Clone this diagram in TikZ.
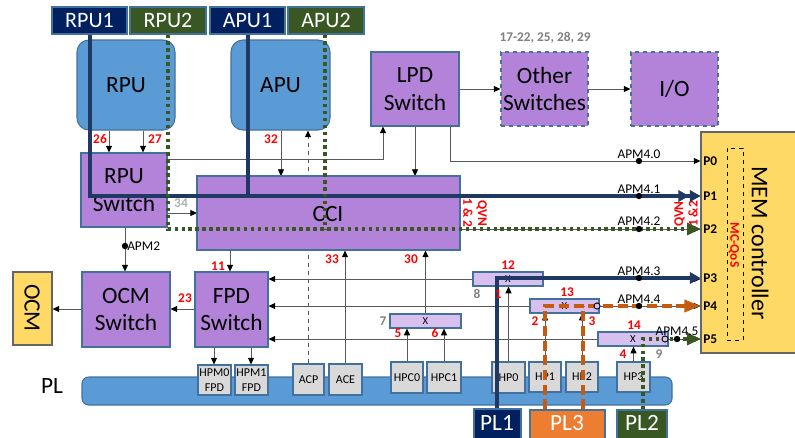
\documentclass[tikz,border=0pt]{standalone}
\usepackage{fontspec}
\setmainfont{Carlito}
\usetikzlibrary{arrows.meta,fit,calc}

\definecolor{navy}{HTML}{002060}
\definecolor{navyln}{HTML}{1F3864}
\definecolor{grn}{HTML}{385723}
\definecolor{purp}{HTML}{B383DA}
\definecolor{lpurp}{HTML}{D7C0EE}
\definecolor{bluebox}{HTML}{5B9BD5}
\definecolor{edge}{HTML}{41719C}
\definecolor{ylw}{HTML}{FFD966}
\definecolor{gbox}{HTML}{D9D9D9}
\definecolor{orgln}{HTML}{C55A11}
\definecolor{orgbox}{HTML}{ED7D31}
\definecolor{redlbl}{HTML}{FF0000}
\definecolor{graylbl}{HTML}{808080}
\definecolor{lgraylbl}{HTML}{B0B0B0}

\newcommand\fbig{\fontsize{17.5}{20.5}\selectfont}
\newcommand\ftag{\fontsize{16.5}{20}\selectfont}
\newcommand\fmem{\fontsize{18}{21}\selectfont}
\newcommand\fport{\fontsize{9}{11.5}\selectfont}
\newcommand\fnum{\bfseries\fontsize{10}{12}\selectfont}
\newcommand\fapm{\fontsize{10}{12}\selectfont}
\newcommand\fqvn{\bfseries\fontsize{10}{11}\selectfont}

\begin{document}
\begin{tikzpicture}[x=0.75pt,y=-0.75pt,
  box/.style={draw=edge, line width=0.8pt, inner sep=0pt},
  % text sitting in the middle of a fitted box
  mid/.style={label={[inner sep=0pt, align=center, font=#1]center:}},
  bigtxt/.style={inner sep=0pt, align=center, font=\fbig},
  tag/.style={box, fill=navy},
  tagg/.style={tag, fill=grn},
  tagtxt/.style={inner sep=0pt, text=white, font=\ftag},
  core/.style={box, fill=bluebox, rounded corners=9pt},
  sw/.style={box, fill=purp},
  swd/.style={sw, dashed},
  xbar/.style={box, fill=lpurp, line width=0.9pt},
  xtxt/.style={inner sep=0pt, font=\fontsize{8}{10}\selectfont},
  port/.style={box, fill=gbox},
  porttxt/.style={inner sep=0pt, align=center, font=\fport},
  conn/.style={draw=black!65, line width=0.6pt, -{Triangle[length=5pt,width=4.5pt,color=black]}},
  num/.style={text=redlbl, font=\fnum, inner sep=0pt},
  gnum/.style={text=graylbl, font=\fnum, inner sep=0pt},
  apm/.style={font=\fapm, anchor=base, inner sep=0pt},
  portlbl/.style={font=\fnum, anchor=west, inner sep=0pt},
  bluepath/.style={draw=navyln, line width=3pt},
  greenpath/.style={draw=grn, line width=2.3pt, dash pattern=on 2.6pt off 2.6pt},
  orgpath/.style={draw=orgln, line width=2.6pt, dash pattern=on 7.5pt off 3.5pt},
  bluetip/.style={-{Triangle[length=8pt,width=8.5pt]}},
  greentip/.style={-{Triangle[length=10pt,width=9pt]}},
  orgtip/.style={-{Triangle[length=12pt,width=9pt]}},
  dotmark/.style={fill=black},
  ring/.style={draw=black, line width=0.7pt}
]
\useasboundingbox (0,0) rectangle (795,437);

% ---------- programmable logic fabric ----------
\node[box, fill=bluebox, rounded corners=5pt, fit={(82,377) (672,405)}] (plbar) {};
\node[bigtxt] (pltxt) at (52,386) {PL};

\foreach \n/\a/\b/\t in {hpm0/{(198,365)}/{(231,395)}/{HPM0\\FPD},
                         hpm1/{(235,365)}/{(268,395)}/{HPM1\\FPD},
                         acp/{(293,364)}/{(324,395)}/ACP,
                         ace/{(329,364)}/{(362,395)}/ACE,
                         hpc0/{(391,362)}/{(423,393)}/HPC0,
                         hpc1/{(427,362)}/{(461,393)}/HPC1,
                         hp0/{(492,362)}/{(525,393)}/HP0,
                         hp1/{(529,362)}/{(561,392)}/HP1,
                         hp2/{(566,362)}/{(598,392)}/HP2,
                         hp3/{(617,362)}/{(650,392)}/HP3}{
  \node[port, fit={\a \b}] (\n) {};
  \node[porttxt] (\n txt) at (\n.center) {\t};
}

% ---------- traffic sources ----------
\node[tag,  fit={(52,7) (127,34)}]  (rpu1) {};
\node[tagg, fit={(130,7) (206,34)}] (rpu2) {};
\node[tag,  fit={(210,7) (285,34)}] (apu1) {};
\node[tagg, fit={(288,7) (364,34)}] (apu2) {};
\node[tag,  fit={(474,409) (521,440)}] (pl1) {};
\node[tag, fill=orgbox, fit={(530,410) (605,440)}] (pl3) {};
\node[tagg, fit={(617,410) (667,440)}] (pl2) {};
\node[tagtxt] (rpu1txt) at (rpu1.center) {RPU1};
\node[tagtxt] (rpu2txt) at (rpu2.center) {RPU2};
\node[tagtxt] (apu1txt) at (apu1.center) {APU1};
\node[tagtxt] (apu2txt) at (apu2.center) {APU2};
\node[tagtxt, font=\fbig] (pl1txt) at (497,423) {PL1};
\node[tagtxt, font=\fbig] (pl3txt) at (567,423) {PL3};
\node[tagtxt, font=\fbig] (pl2txt) at (642,423) {PL2};

% ---------- processors and switches ----------
\node[core, fit={(77,40) (175,130)}]  (rpu) {};
\node[core, fit={(231,40) (330,130)}] (apu) {};
\node[sw,  fit={(81,153) (167,227)}]  (rpusw) {};
\node[sw,  fit={(371,52) (459,126)}]  (lpd) {};
\node[swd, fit={(501,52) (588,126)}]  (other) {};
\node[swd, fit={(631,52) (718,126)}]  (io) {};
\node[sw,  fit={(82,272) (170,347)}]  (ocmsw) {};
\node[sw,  fit={(195,272) (268,347)}] (fpd) {};
\node[bigtxt] (rputxt) at (rpu.center) {RPU};
\node[bigtxt] (aputxt) at (apu.center) {APU};
\node[bigtxt] (rpuswtxt) at (rpusw.center) {RPU\\Switch};
\node[bigtxt] (lpdtxt) at (lpd.center) {LPD\\Switch};
\node[bigtxt] (othertxt) at (other.center) {Other\\Switches};
\node[bigtxt] (iotxt) at (io.center) {I/O};
\node[bigtxt] (ocmswtxt) at (ocmsw.center) {OCM\\Switch};
\node[bigtxt] (fpdtxt) at (fpd.center) {FPD\\Switch};
\node[box, draw=black!60, fill=ylw, fit={(13,272) (52,345)}] (ocm) {};
\node[bigtxt, rotate=-90] (ocmtxt) at (32,308) {OCM};
\node[text=graylbl, font=\fnum, inner sep=0pt] (othernums) at (545,38) {17-22, 25, 28, 29};

% ---------- memory controller ----------
\node[box, draw=black!60, fill=ylw, fit={(701,132) (802,353)}] (mem) {};
\node[font=\fmem, rotate=-90, inner sep=0pt] (memtxt) at (760,243) {MEM controller};
\node[draw=black, dashed, line width=0.6pt, inner sep=0pt, fit={(727,148) (743,340)}] (qos) {};
\node[text=redlbl, font=\fqvn, rotate=-90, inner sep=0pt] (qostxt) at (734,245) {MC-QoS};
\foreach \p/\y in {0/161,1/196,2/229,3/278,4/306,5/339}
  \node[portlbl] (port\p) at (703,\y) {P\p};

% ---------- interconnect connectors ----------
\draw[conn] (rpu.south -| 109,0) -- (rpusw.north -| 109,0);
\draw[conn] (rpu.south -| 143,0) -- (rpusw.north -| 143,0);
\draw[conn] (apu.south -| 281,0) -- (281,176);
\draw[conn, dashed] (acp.north -| 308,0) -- (apu.south -| 308,0);
\draw[conn] (rpusw.east |- 0,159) -| (lpd.south -| 383,0);
\draw[conn] (lpd.south -| 415,0) -- (415,176);
\draw[conn] (lpd.south -| 450,0) |- (mem.west |- 0,161);
\draw[conn] (lpd.east) -- (other.west);
\draw[conn] (other.east) -- (io.west);
\draw[conn] (rpusw.east |- 0,213) -- (197,213);
\draw[conn] (rpusw.south -| 125,0) -- (ocmsw.north -| 125,0);
\draw[conn] (fpd.west |- 0,309) -- (ocmsw.east |- 0,309);
\draw[conn] (ocmsw.west |- 0,309) -- (ocm.east |- 0,309);
\draw[conn] (fpd.south -| 214,0) -- (hpm0.north -| 214,0);
\draw[conn] (fpd.south -| 251,0) -- (hpm1.north -| 251,0);

% ---------- cache coherent interconnect ----------
\node[sw, fit={(197,176) (460,250)}] (cci) {};
\node[bigtxt] (ccitxt) at (328,214) {CCI};
\node[text=redlbl, font=\fqvn, rotate=-90, align=center, inner sep=0pt] (qvnl) at (475,213) {QVN\\1 \& 2};
\node[text=redlbl, font=\fqvn, rotate=90, align=center, inner sep=0pt] (qvnr) at (686,214) {QVN\\1 \&2};

\draw[conn] (cci.south -| 230,0) -- (fpd.north -| 230,0);
\draw[conn] (ace.north -| 345,0) -- (cci.south -| 345,0);

% ---------- QoS crossbars ----------
\node[xbar, fit={(390,314) (461,328)}] (b7) {};
\node[xbar, fit={(473,272) (543,286)}] (b12) {};
\node[xbar, fit={(530,299) (599,313)}] (b13) {};
\node[xbar, fit={(598,332) (668,346)}] (b14) {};
\foreach \b in {b7,b12,b13,b14} \node[xtxt] (\b txt) at (\b.center) {X};

\draw[conn] (b7.north) -- (cci.south -| b7.north);
\draw[conn] (hpc0.north) -- (b7.south -| hpc0.north);
\draw[conn] (hpc1.north) -- (b7.south -| hpc1.north);
\draw[conn] (hp0.north) -- (b12.south -| hp0.north);
\draw[conn] (hp1.north) -- (b13.south -| hp1.north);
\draw[conn] (hp2.north) -- (b13.south -| hp2.north);
\draw[conn] (hp3.north) -- (b14.south -| hp3.north);
\draw[conn] (b12.west) -- (fpd.east |- b12.west);
\draw[conn] (b13.west) -- (fpd.east |- b13.west);
\draw[conn] (b14.west) -- (fpd.east |- b14.west);
\draw[conn] (b12.east) -- (mem.west |- b12.east);
\draw[conn] (b13.east) -- (mem.west |- b13.east);
\draw[conn] (b14.east) -- (mem.west |- b14.east);
\draw[conn] (cci.east |- 0,196) -- (mem.west |- 0,196);
\draw[conn] (cci.east |- 0,229) -- (mem.west |- 0,229);

% ---------- traffic routes ----------
\coordinate (p1a) at (689,196);
\coordinate (jg) at (325,229);
\coordinate (jo) at (583,306);
\draw[bluepath, bluetip] (rpu1.south -| 90,0) |- (mem.west |- 0,196);
\draw[bluepath, bluetip] (apu1.south -| 248,0) |- (p1a);
\draw[greenpath] (apu2.south -| 325,0) -- (jg);
\draw[greenpath, greentip] (rpu2.south -| 168,0) |- (mem.west |- 0,229);
\draw[bluepath, bluetip] (pl1.north -| 497,0) |- (mem.west |- 0,278);
\draw[orgpath] (pl3.north -| 583,0) -- (jo);
\draw[orgpath, orgtip] (pl3.north -| 545,0) |- (mem.west |- 0,306);
\draw[greenpath, greentip] (pl2.north -| 643,0) |- (mem.west |- 0,339);

% ---------- monitor points ----------
\draw[ring, fill=lpurp] (597,306) circle (2.3pt);
\draw[ring, fill=lpurp] (665,339) circle (2.3pt);
\foreach \y in {161,196,229,278,306} \fill[dotmark] (639,\y) circle (2.4pt);
\fill[dotmark] (677,339) circle (2.4pt);
\fill[dotmark] (125,246) circle (2.4pt);
\node[font=\fapm, anchor=west, inner sep=0pt] (apm2) at (127,246) {APM2};
\node[apm] (a40) at (639,158) {APM4.0};
\node[apm] (a41) at (639,193) {APM4.1};
\node[apm] (a42) at (639,225) {APM4.2};
\node[apm] (a43) at (639,275) {APM4.3};
\node[apm] (a44) at (639,303) {APM4.4};
\node[apm] (a45) at (677,335) {APM4.5};

% ---------- QoS control point numbers ----------
\node[num] (n26) at (100,139) {26};
\node[num] (n27) at (155,139) {27};
\node[num] (n32) at (271,139) {32};
\node[num] (n11) at (218,266) {11};
\node[num] (n23) at (185,298) {23};
\node[num] (n33) at (332,259) {33};
\node[num] (n30) at (411,259) {30};
\node[num] (n12) at (508,265) {12};
\node[num] (n1)  at (498,294) {1};
\node[num] (n13) at (567,292) {13};
\node[num] (n2)  at (535,321) {2};
\node[num] (n3)  at (592,321) {3};
\node[num] (n14) at (634,325) {14};
\node[num] (n4)  at (623,354) {4};
\node[num] (n5)  at (398,333) {5};
\node[num] (n6)  at (435,333) {6};
\node[gnum, text=lgraylbl] (n34) at (181,203) {34};
\node[gnum] (n7) at (383,321) {7};
\node[gnum] (n8) at (477,294) {8};
\node[gnum] (n9) at (659,354) {9};
\end{tikzpicture}
\end{document}
